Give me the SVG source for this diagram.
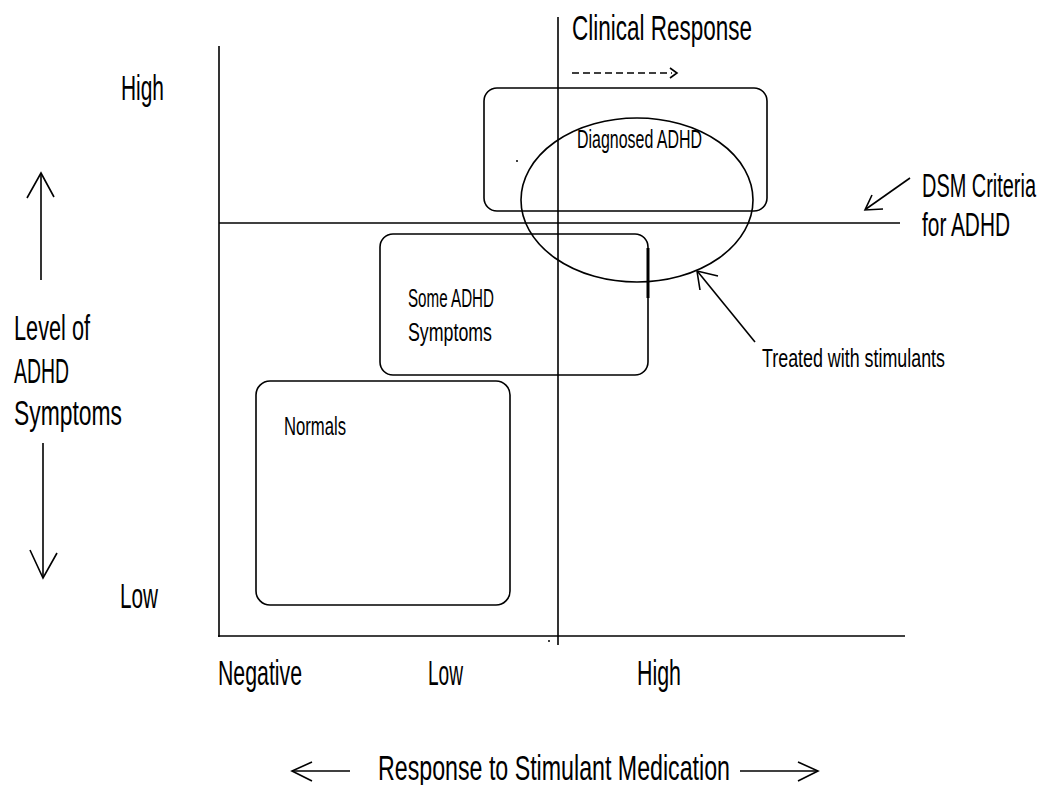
<svg xmlns="http://www.w3.org/2000/svg" width="1055" height="785" viewBox="0 0 1055 785">
<style>
.ln{stroke:#000;stroke-width:1.6;fill:none}
.bx{stroke:#000;stroke-width:1.6;fill:none}
.t{font-family:"Liberation Sans",Arial,sans-serif;fill:#000;font-size:35px}
.s{font-family:"Liberation Sans",Arial,sans-serif;fill:#000;font-size:26px}
.d{font-family:"Liberation Sans",Arial,sans-serif;fill:#000;font-size:33px}
</style>
<rect width="1055" height="785" fill="#fff"/>
<g id="axes">
<line class="ln" x1="219" y1="46" x2="219" y2="637"/>
<line class="ln" x1="218" y1="636" x2="905" y2="636"/>
<line class="ln" x1="558" y1="17" x2="558" y2="645"/>
<line class="ln" x1="219" y1="223" x2="900" y2="223"/>
<circle cx="517" cy="161" r="1" fill="#000"/>
<circle cx="549" cy="641" r="1" fill="#000"/>
</g>
<g id="diagnosed">
<rect class="bx" x="484" y="88" width="283" height="123" rx="13"/>
<text class="s" x="577" y="148" textLength="125" lengthAdjust="spacingAndGlyphs">Diagnosed ADHD</text>
</g>
<g id="some">
<rect class="bx" x="380" y="234" width="268" height="141" rx="13"/>
<text class="s" x="408" y="307" textLength="86" lengthAdjust="spacingAndGlyphs">Some ADHD</text>
<text class="s" x="408" y="341" textLength="84" lengthAdjust="spacingAndGlyphs">Symptoms</text>
<line x1="648" y1="248" x2="648" y2="298" stroke="#000" stroke-width="3"/>
</g>
<g id="normals">
<rect class="bx" x="256" y="381" width="254" height="224" rx="14"/>
<text class="s" x="284" y="435" textLength="62" lengthAdjust="spacingAndGlyphs">Normals</text>
</g>
<g id="treated">
<ellipse class="ln" cx="637" cy="200" rx="116" ry="82"/>
</g>
<g id="labels">
<text class="t" x="572" y="40" textLength="180" lengthAdjust="spacingAndGlyphs">Clinical Response</text>
<text class="t" x="121" y="100" textLength="43" lengthAdjust="spacingAndGlyphs">High</text>
<text class="t" x="120" y="608" textLength="38" lengthAdjust="spacingAndGlyphs">Low</text>
<text class="d" x="1036" y="197" text-anchor="end" textLength="114" lengthAdjust="spacingAndGlyphs">DSM Criteria</text>
<text class="d" x="1010" y="236" text-anchor="end" textLength="88" lengthAdjust="spacingAndGlyphs">for ADHD</text>
<text class="s" x="762" y="367" textLength="183" lengthAdjust="spacingAndGlyphs">Treated with stimulants</text>
<text class="t" x="14" y="340" textLength="76" lengthAdjust="spacingAndGlyphs">Level of</text>
<text class="t" x="14" y="383" textLength="55" lengthAdjust="spacingAndGlyphs">ADHD</text>
<text class="t" x="14" y="425" textLength="108" lengthAdjust="spacingAndGlyphs">Symptoms</text>
<text class="t" x="218" y="685" textLength="84" lengthAdjust="spacingAndGlyphs">Negative</text>
<text class="t" x="428" y="685" textLength="35" lengthAdjust="spacingAndGlyphs">Low</text>
<text class="t" x="637" y="685" textLength="44" lengthAdjust="spacingAndGlyphs">High</text>
<text class="t" x="378" y="780" textLength="352" lengthAdjust="spacingAndGlyphs">Response to Stimulant Medication</text>
</g>
<g id="connectors">
<line class="ln" x1="41" y1="280" x2="41" y2="174"/>
<polyline class="ln" points="27,198 41,173 54,197"/>
<line class="ln" x1="43" y1="443" x2="43" y2="577"/>
<polyline class="ln" points="30,550 43,578 57,553"/>
<line class="ln" x1="572" y1="73" x2="672" y2="73" stroke-dasharray="7 4"/>
<polyline class="ln" points="670,68 677,73 670,78"/>
<line class="ln" x1="910" y1="178" x2="866" y2="209"/>
<polyline class="ln" points="872,195 865,210 883,209"/>
<line class="ln" x1="755" y1="342" x2="698" y2="272"/>
<polyline class="ln" points="718,276 697,271 700,290"/>
<line class="ln" x1="292" y1="771" x2="350" y2="771"/>
<polyline class="ln" points="312,762 292,771 312,781"/>
<line class="ln" x1="740" y1="771" x2="818" y2="771"/>
<polyline class="ln" points="798,762 818,771 798,781"/>
</g>
</svg>
